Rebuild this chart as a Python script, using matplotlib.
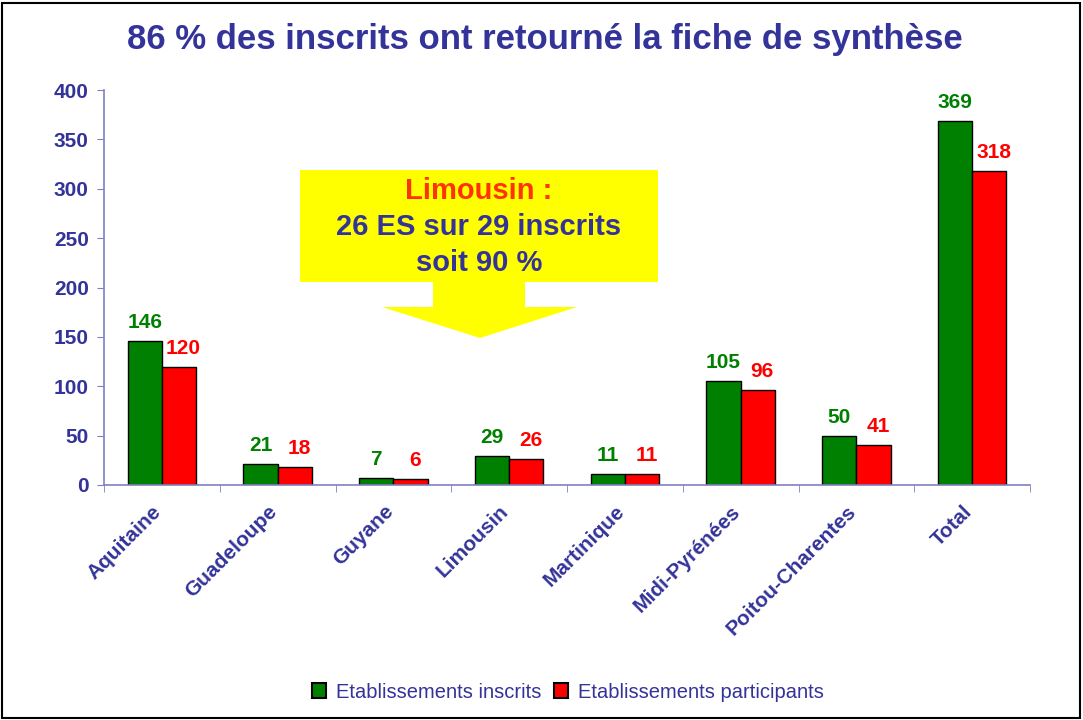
import numpy as np
import matplotlib
matplotlib.use("Agg")
import matplotlib.pyplot as plt
import matplotlib.transforms as mtransforms
from matplotlib.patches import Polygon, Rectangle

plt.rcParams['font.family'] = ['Liberation Sans', 'DejaVu Sans']

regions = ["Aquitaine", "Guadeloupe", "Guyane", "Limousin", "Martinique",
           "Midi-Pyrénées", "Poitou-Charentes", "Total"]
inscrits = [146, 21, 7, 29, 11, 105, 50, 369]
participants = [120, 18, 6, 26, 11, 96, 41, 318]

bleu = "#333399"
axe = "#8080C0"
vert = "#008000"
rouge = "#FF0000"

fig = plt.figure(figsize=(10.83, 7.2), dpi=100)
ax = fig.add_axes([104/1083, 1-485/720, (1030-104)/1083, (485-90)/720])

x = np.arange(len(regions))
w = 0.295
b1 = ax.bar(x - w/2, inscrits, w, color=vert, edgecolor="black", linewidth=1,
            label="Etablissements inscrits")
b2 = ax.bar(x + w/2, participants, w, color=rouge, edgecolor="black", linewidth=1,
            label="Etablissements participants")

for xi, v in zip(x, inscrits):
    ax.text(xi - w/2, v + 9, str(v), color=vert, ha="center", va="bottom",
            fontsize=15, fontweight="bold")
for xi, v in zip(x, participants):
    ax.text(xi + w/2 + 0.04, v + 9, str(v), color=rouge, ha="center", va="bottom",
            fontsize=15, fontweight="bold")

ax.set_xlim(-0.5, len(regions) - 0.5)
ax.set_ylim(0, 400)
ax.set_yticks(range(0, 401, 50))
ax.set_xticks(x)
ax.set_xticklabels(regions, rotation=45, ha="right", rotation_mode="anchor")
ax.set_xticks(np.arange(-0.5, len(regions), 1), minor=True)
ax.tick_params(axis="x", which="major", length=0, pad=12)
ax.tick_params(axis="x", which="minor", length=5, color=axe)
ax.tick_params(axis="y", length=5, color=axe, pad=6)
decal = mtransforms.ScaledTranslation(-10/100, 0, fig.dpi_scale_trans)
for lab in ax.get_xticklabels():
    lab.set_transform(lab.get_transform() + decal)
for lab in ax.get_xticklabels() + ax.get_yticklabels():
    lab.set_color(bleu)
    lab.set_fontweight("bold")
    lab.set_fontsize(15)

for s in ["top", "right"]:
    ax.spines[s].set_visible(False)
for s in ["left", "bottom"]:
    ax.spines[s].set_color(axe)
    ax.spines[s].set_linewidth(1.2)

fig.text(545/1083, 1-40/720, "86 % des inscrits ont retourné la fiche de synthèse",
         ha="center", va="center", color=bleu, fontsize=25, fontweight="bold")

# fleche jaune
pts = [(300, 170), (658, 170), (658, 282), (525, 282), (525, 307), (577, 307),
       (480, 338), (382, 307), (433, 307), (433, 282), (300, 282)]
pts = [(px/1083, 1-py/720) for px, py in pts]
fig.patches.append(Polygon(pts, closed=True, facecolor="#FFFF00", edgecolor="none",
                           transform=fig.transFigure, zorder=5))
fig.text(479/1083, 1-191/720, "Limousin :", ha="center", va="center", color="#FF3300",
         fontsize=21, fontweight="bold", zorder=6)
fig.text(479/1083, 1-227/720, "26 ES sur 29 inscrits", ha="center", va="center",
         color=bleu, fontsize=21, fontweight="bold", zorder=6)
fig.text(479/1083, 1-263/720, "soit 90 %", ha="center", va="center", color=bleu,
         fontsize=21, fontweight="bold", zorder=6)

leg = fig.legend(handles=[b1, b2], loc="center", bbox_to_anchor=(568/1083, 1-692/720),
                 ncol=2, frameon=False, fontsize=14.5, handlelength=0.7, handleheight=0.7,
                 handletextpad=0.5, columnspacing=0.6)
for t in leg.get_texts():
    t.set_color(bleu)
for h in leg.legend_handles:
    h.set_linewidth(1.5)

fig.patches.append(Rectangle((2/1083, 2/720), 1078/1083, 715/720, fill=False,
                             edgecolor="black", linewidth=1.5, transform=fig.transFigure))

fig.savefig("out.png", dpi=100)
